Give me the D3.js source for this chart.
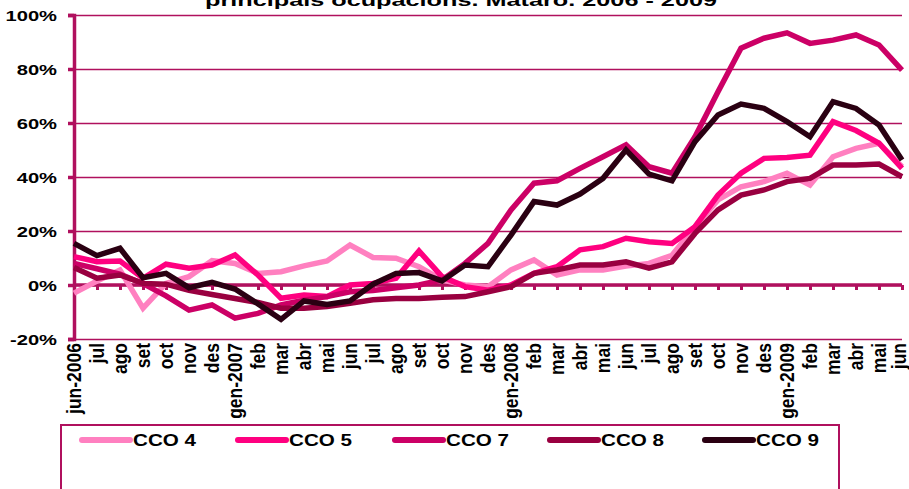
<!DOCTYPE html>
<html><head><meta charset="utf-8">
<script src="https://cdn.jsdelivr.net/npm/d3@7"></script>
<style>
html,body{margin:0;padding:0;background:#fff;}
svg{display:block;font-family:"Liberation Sans",Arial,sans-serif;font-weight:bold;}
</style></head>
<body>
<svg id="c" width="909" height="489"></svg>
<script>
const categories = ["jun-2006","jul","ago","set","oct","nov","des","gen-2007","feb","mar","abr","mai","jun","jul","ago","set","oct","nov","des","gen-2008","feb","mar","abr","mai","jun","jul","ago","set","oct","nov","des","gen-2009","feb","mar","abr","mai","jun"];
const seriesNames = ["CCO 4","CCO 5","CCO 7","CCO 8","CCO 9"];
const cco4 = [-3,1.5,5.5,-8.6,0.6,3.1,9,8,4.3,4.9,7.1,8.9,14.8,10.2,9.9,6.8,1.9,0,-0.6,5.6,9.3,3.7,5.6,5.6,7,8,11,21.6,31.5,36.4,38.3,41.4,37,47.5,50.6,52.5,43.8];
const cco5 = [10.5,8.6,8.9,2.5,7.7,6.2,7.4,11.1,3.7,-4.9,-3.7,-4.3,0,0.6,2.5,12.6,3.1,-0.6,-1.9,0,4.3,6.8,13,14.2,17.3,16,15.4,21.6,33.3,41.4,46.9,47.2,48.1,60.5,57.2,52.5,43.2];
const cco7 = [8,6,4,0.5,-4,-9.3,-7.4,-12.3,-10.5,-7.4,-5.6,-4.3,-2.5,-2,-1,0,1.9,8,15.4,27.8,37.7,38.6,43.2,47.5,51.9,43.8,41.4,54.9,71.6,87.7,91.4,93.4,89.5,90.7,92.6,88.9,79.6];
const cco8 = [6.5,2.5,3.7,0.6,0.3,-2,-3.5,-5,-6.5,-8.6,-8.6,-8,-6.8,-5.5,-5,-5,-4.5,-4.3,-2.5,-0.6,4.3,5.6,7.4,7.4,8.6,6.2,8.6,19.1,27.8,33.3,35.2,38.3,39.5,44.4,44.4,44.8,40.1];
const cco9 = [15.4,10.9,13.6,2.7,4.3,-1,1,-1.5,-7,-12.7,-5.9,-7.2,-5.9,0.3,4.3,4.6,1.5,7.4,6.8,18.5,30.9,29.6,33.7,39.5,50,41.1,38.6,53.1,63,67,65.4,60.5,54.9,67.9,65.4,59.3,46.3];
const yTicks = [-20,0,20,40,60,80,100];
const titleText = "principals ocupacions. Mataró. 2006 - 2009";

const colors = ["#FF80C0","#FF0080","#CC0066","#990040","#2A0012"];
const gridColor = "#B0105E";
const allSeries = [cco4,cco5,cco7,cco8,cco9];

const svg = d3.select("#c");
const L = 74, R = 902, T = 15, B = 339;
const x = d3.scalePoint().domain(d3.range(categories.length)).range([L, R]);
const y = d3.scaleLinear().domain([-20, 100]).range([B, T]);

// title (clipped at top, as in the reference)
svg.append("text").attr("x", 461).attr("y", 6).attr("text-anchor","middle")
  .attr("font-size", 17).attr("textLength", 512).attr("lengthAdjust","spacingAndGlyphs")
  .text(titleText);

// gridlines
svg.append("g").attr("transform", `translate(${L},0)`)
  .call(d3.axisLeft(y).tickValues(yTicks).tickSize(-(R - L)).tickFormat(""))
  .call(g => g.select(".domain").remove())
  .call(g => g.selectAll("line").attr("stroke", gridColor).attr("stroke-width", 1.6));

// y axis
const yAx = svg.append("g").attr("transform", `translate(${L},0)`)
  .call(d3.axisLeft(y).tickValues(yTicks).tickSize(6).tickPadding(0).tickFormat(d => d + "%"));
yAx.select(".domain").attr("stroke", gridColor).attr("stroke-width", 3.5);
yAx.selectAll(".tick line").attr("stroke", gridColor).attr("stroke-width", 3.5);
yAx.selectAll(".tick text").attr("fill","#000").attr("font-size", 15.5)
  .attr("font-family", "Liberation Sans, Arial, sans-serif").attr("font-weight","bold")
  .attr("x", -17/1.3).attr("dy","0.36em").attr("transform","scale(1.3,1)");

// x axis (at 0%) with ticks
const xAx = svg.append("g").attr("transform", `translate(0,${y(0)})`)
  .call(d3.axisBottom(x).tickSize(5).tickFormat(""));
xAx.select(".domain").attr("stroke", gridColor).attr("stroke-width", 3.5).attr("d", `M${L},0H${R}`);
xAx.selectAll(".tick line").attr("stroke", gridColor).attr("stroke-width", 3);

// x labels at bottom
const xLab = svg.append("g").attr("transform", `translate(0,${B + 4})`)
  .call(d3.axisBottom(x).tickSize(0).tickFormat(i => categories[i]));
xLab.select(".domain").remove();
xLab.selectAll(".tick text").attr("fill","#000").attr("font-size", 17.5)
  .attr("font-family", "Liberation Sans, Arial, sans-serif").attr("font-weight","bold")
  .attr("text-anchor","end").attr("y", 0).attr("x", 0).attr("dy", "0.34em")
  .attr("transform", (d, i) => (i === categories.length - 1 ? "translate(-3,0) " : "") + "rotate(-90) scale(1,1.12)");

// lines
const line = d3.line().x((d, i) => x(i)).y(d => y(d));
allSeries.forEach((s, k) => {
  svg.append("path").datum(s).attr("d", line).attr("fill","none")
    .attr("stroke", colors[k]).attr("stroke-width", 5.5).attr("stroke-linejoin","miter").attr("stroke-miterlimit", 2);
});

// legend
const lg = svg.append("g");
lg.append("rect").attr("x", 61).attr("y", 425).attr("width", 778).attr("height", 80)
  .attr("fill","#fff").attr("stroke", gridColor).attr("stroke-width", 2);
const lx = [82, 238, 395, 550, 705];
seriesNames.forEach((n, k) => {
  lg.append("line").attr("x1", lx[k]).attr("x2", lx[k] + 48).attr("y1", 440).attr("y2", 440)
    .attr("stroke", colors[k]).attr("stroke-width", 6).attr("stroke-linecap","round");
  lg.append("text").attr("x", lx[k] + 51).attr("y", 440).attr("dy","0.36em")
    .attr("font-size", 16).attr("textLength", 63).attr("lengthAdjust","spacingAndGlyphs").text(n);
});
</script>
</body></html>
